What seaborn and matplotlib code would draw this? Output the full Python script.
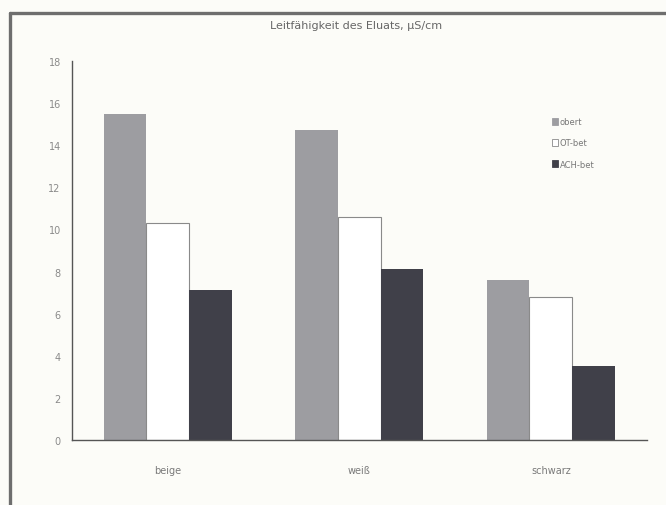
import matplotlib
matplotlib.use("Agg")
import matplotlib.pyplot as plt
from matplotlib.lines import Line2D
import seaborn as sns
import pandas as pd

# Conductivity of the eluate per sample colour and treatment
categories = ["beige", "weiß", "schwarz"]
series = ["obert", "OT-bet", "ACH-bet"]
obert = [15.5, 14.7, 7.6]
ot_bet = [10.3, 10.6, 6.8]
ach_bet = [7.1, 8.1, 3.5]
y_ticks = [0, 2, 4, 6, 8, 10, 12, 14, 16, 18]
title = "Leitfähigkeit des Eluats, µS/cm"

df = pd.DataFrame({
    "Farbe": categories * 3,
    "Serie": [series[0]] * 3 + [series[1]] * 3 + [series[2]] * 3,
    "Wert": obert + ot_bet + ach_bet,
})

sns.set_style("white")
plt.rcParams["font.family"] = ["DejaVu Sans"]

bg = "#fcfcf8"
palette = {"obert": "#9d9da1", "OT-bet": "#ffffff", "ACH-bet": "#404049"}

fig = plt.figure(figsize=(6.66, 5.06), dpi=100, facecolor=bg)
ax = fig.add_axes([0.108, 0.1285, 0.863, 0.749])
ax.set_facecolor(bg)

sns.barplot(data=df, x="Farbe", y="Wert", hue="Serie", order=categories,
            hue_order=series, palette=palette, width=0.67, saturation=1,
            linewidth=0, ax=ax, legend=False)

# outline only for the white series
for patch in ax.containers[1]:
    patch.set_edgecolor("#8a8a8a")
    patch.set_linewidth(0.8)

ax.set_xlim(-0.5, 2.5)
ax.set_ylim(0, 18)
ax.set_yticks(y_ticks)
ax.set_yticklabels([str(t) for t in y_ticks])
ax.set_xlabel("")
ax.set_ylabel("")

# category boundaries carry the x tick marks
ax.set_xticks([0.5, 1.5], minor=False)
ax.set_xticklabels(["", ""])
ax.set_xticks([0, 1, 2], minor=True)
ax.set_xticklabels(categories, minor=True)
ax.tick_params(axis="x", which="minor", length=0, pad=18, labelsize=7, labelcolor="#7a7a7a")
ax.tick_params(axis="x", which="major", length=5, width=0.9, color="#666666", direction="inout")
ax.tick_params(axis="y", length=4, width=0.8, color="#666666", direction="inout",
               labelsize=7, labelcolor="#8a8a8a", pad=6)

for side in ["top", "right"]:
    ax.spines[side].set_visible(False)
for side in ["left", "bottom"]:
    ax.spines[side].set_color("#555555")
    ax.spines[side].set_linewidth(1.0)

# legend
handles = [plt.Rectangle((0, 0), 1, 1, facecolor=palette[s],
                         edgecolor="#8a8a8a" if s == "OT-bet" else palette[s],
                         linewidth=0.6) for s in series]
leg = ax.legend(handles, series, loc="upper left", bbox_to_anchor=(0.83, 0.86),
                frameon=False, fontsize=6, handlelength=0.7, handleheight=0.9,
                handletextpad=0.2, labelspacing=1.45, borderaxespad=0)
for t in leg.get_texts():
    t.set_color("#777777")

fig.text(0.535, 0.948, title, ha="center", va="center", fontsize=8, color="#666666")

# page frame lines
fig.add_artist(Line2D([10 / 666, 1.0], [1 - 14 / 506, 1 - 14 / 506],
                      transform=fig.transFigure, color="#6e6e6e", linewidth=2.4))
fig.add_artist(Line2D([10 / 666, 10 / 666], [0.0, 1 - 14 / 506],
                      transform=fig.transFigure, color="#6e6e6e", linewidth=2.4))

fig.savefig("out.png", dpi=100, facecolor=bg)
